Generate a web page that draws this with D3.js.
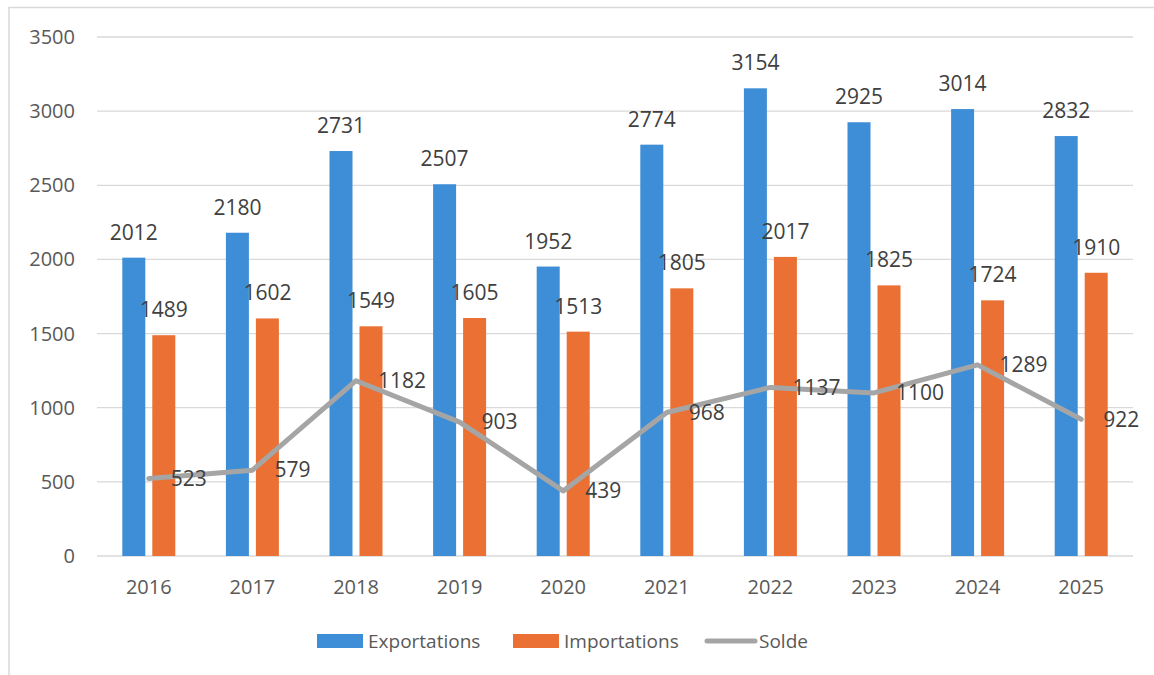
<!DOCTYPE html>
<html>
<head>
<meta charset="utf-8">
<script src="https://cdn.jsdelivr.net/npm/d3@7/dist/d3.min.js"></script>
<style>
  body { margin: 0; background: #fff; }
  svg { font-family: "Open Sans", "Noto Sans", sans-serif; display: block; }
</style>
</head>
<body>
<div id="chart"></div>
<script>
const years = ["2016", "2017", "2018", "2019", "2020", "2021", "2022", "2023", "2024", "2025"];
const exportations = [2012, 2180, 2731, 2507, 1952, 2774, 3154, 2925, 3014, 2832];
const importations = [1489, 1602, 1549, 1605, 1513, 1805, 2017, 1825, 1724, 1910];
const solde = [523, 579, 1182, 903, 439, 968, 1137, 1100, 1289, 922];
const yTicks = [0, 500, 1000, 1500, 2000, 2500, 3000, 3500];

const width = 1154, height = 675;
const margin = { top: 37, right: 21, bottom: 119, left: 97 };
const innerWidth = width - margin.left - margin.right;
const innerHeight = height - margin.top - margin.bottom;

const colors = { exp: "#3E8ED7", imp: "#EA7133", solde: "#A5A5A5" };

const svg = d3.select("#chart").append("svg")
  .attr("width", width)
  .attr("height", height);

// outer chart border (right and bottom edges fall outside the frame)
svg.append("rect")
  .attr("x", 9).attr("y", 7.5)
  .attr("width", width + 20).attr("height", height + 20)
  .attr("fill", "none").attr("stroke", "#D9D9D9").attr("stroke-width", 1.5);

const root = svg.append("g").attr("transform", `translate(${margin.left},${margin.top})`);

const x = d3.scaleBand().domain(years).range([0, innerWidth]);
const y = d3.scaleLinear().domain([0, 3500]).range([innerHeight, 0]);

// gridlines
root.append("g").selectAll("line")
  .data(yTicks)
  .join("line")
  .attr("x1", 0).attr("x2", innerWidth)
  .attr("y1", d => y(d)).attr("y2", d => y(d))
  .attr("stroke", "#D9D9D9").attr("stroke-width", 1.3);

// y axis labels
root.append("g").selectAll("text")
  .data(yTicks)
  .join("text")
  .attr("x", -22)
  .attr("y", d => y(d))
  .attr("dy", "0.35em")
  .attr("text-anchor", "end")
  .attr("font-size", 20)
  .attr("fill", "#595959")
  .text(d => d);

// x axis labels
root.append("g").selectAll("text")
  .data(years)
  .join("text")
  .attr("x", d => x(d) + x.bandwidth() / 2)
  .attr("y", innerHeight + 31)
  .attr("dy", "0.35em")
  .attr("text-anchor", "middle")
  .attr("font-size", 20)
  .attr("fill", "#595959")
  .text(d => d);

const barW = 23, gap = 7;
const series = [
  { key: "exp", values: exportations, offset: -(gap / 2) - barW },
  { key: "imp", values: importations, offset: gap / 2 }
];

series.forEach(s => {
  const g = root.append("g");
  g.selectAll("rect")
    .data(years)
    .join("rect")
    .attr("x", (d) => x(d) + x.bandwidth() / 2 + s.offset)
    .attr("y", (d, i) => y(s.values[i]))
    .attr("width", barW)
    .attr("height", (d, i) => innerHeight - y(s.values[i]))
    .attr("fill", colors[s.key]);
  g.selectAll("text")
    .data(years)
    .join("text")
    .attr("x", (d) => x(d) + x.bandwidth() / 2 + s.offset + barW / 2)
    .attr("y", (d, i) => y(s.values[i]) - 18)
    .attr("text-anchor", "middle")
    .attr("font-size", 21)
    .attr("fill", "#404040")
    .text((d, i) => s.values[i]);
});

// solde line
const line = d3.line()
  .x((d, i) => x(years[i]) + x.bandwidth() / 2)
  .y(d => y(d));

root.append("path")
  .datum(solde)
  .attr("d", line)
  .attr("fill", "none")
  .attr("stroke", colors.solde)
  .attr("stroke-width", 5)
  .attr("stroke-linejoin", "round")
  .attr("stroke-linecap", "round");

root.append("g").selectAll("text")
  .data(solde)
  .join("text")
  .attr("x", (d, i) => x(years[i]) + x.bandwidth() / 2 + 22)
  .attr("y", d => y(d))
  .attr("dy", "0.35em")
  .attr("font-size", 21)
  .attr("fill", "#404040")
  .text(d => d);

// legend
const legend = svg.append("g").attr("transform", "translate(0,641)");
const items = [
  { label: "Exportations", key: "exp", x: 317, type: "rect" },
  { label: "Importations", key: "imp", x: 513, type: "rect" },
  { label: "Solde", key: "solde", x: 705, type: "line" }
];
items.forEach(it => {
  if (it.type === "rect") {
    legend.append("rect")
      .attr("x", it.x).attr("y", -7)
      .attr("width", 46).attr("height", 14)
      .attr("fill", colors[it.key]);
  } else {
    legend.append("line")
      .attr("x1", it.x + 2).attr("x2", it.x + 50)
      .attr("y1", 0).attr("y2", 0)
      .attr("stroke", colors[it.key])
      .attr("stroke-width", 5)
      .attr("stroke-linecap", "round");
  }
  legend.append("text")
    .attr("x", it.x + (it.type === "rect" ? 51 : 54))
    .attr("y", 0)
    .attr("dy", "0.35em")
    .attr("font-size", 19)
    .attr("fill", "#595959")
    .text(it.label);
});
</script>
</body>
</html>
